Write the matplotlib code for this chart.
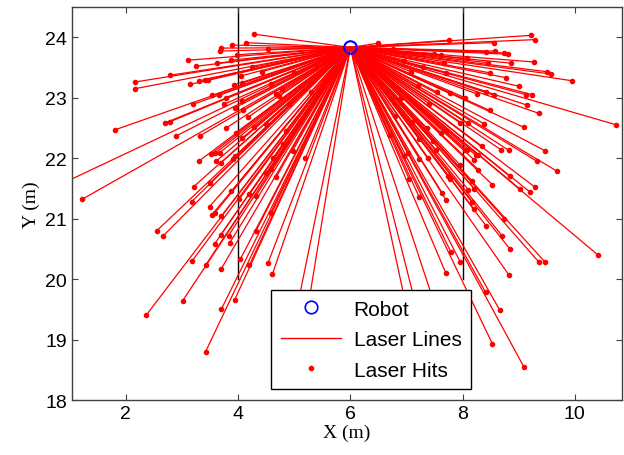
import numpy as np
import matplotlib
matplotlib.use('Agg')
import matplotlib.pyplot as plt
from matplotlib.lines import Line2D

# posicion del robot
robot_x = 6.0
robot_y = 23.83

# paredes del pasillo
wall_x = [4.0, 8.0]
wall_y = [20.0, 24.6]

# impactos del laser, lado izquierdo
left_x = [4.29, 4.14, 3.89, 3.70, 3.67, 4.54, 3.98, 3.11, 3.62, 3.88, 3.25, 2.78, 2.17, 2.17,
          3.15, 3.31, 3.41, 3.47, 4.05, 4.42, 4.25, 3.92, 4.07, 3.54, 3.66, 3.78, 3.20, 3.75,
          3.94, 4.09, 4.07, 2.69, 2.78, 1.81, 2.90, 3.32, 3.79, 4.18, 3.96, 4.07, 4.29, 4.50,
          3.52, 3.59, 3.67, 3.30, 3.61, 3.69, 3.94, 3.91, 4.62, 4.97, 4.68, 4.50, 4.79, 4.73,
          4.67, 4.59, 3.21, 3.50, 3.88, 4.20, 4.32, 1.22, 0.50, 3.17, 4.02, 3.49, 3.53, 3.58,
          3.70, 4.58, 2.55, 2.66, 4.32, 3.69, 3.83, 3.58, 3.85, 4.04, 3.18, 3.42, 3.70, 4.20,
          4.53, 4.61, 3.01, 3.94, 3.70, 2.36, 3.42, 5.00, 5.15,
          4.80, 4.59, 5.10, 4.90, 5.30, 5.00, 5.40, 4.85, 5.20]
left_y = [24.05, 23.91, 23.87, 23.82, 23.77, 23.80, 23.71, 23.62, 23.57, 23.62, 23.52, 23.37,
          23.26, 23.15, 23.22, 23.28, 23.30, 23.30, 23.36, 23.43, 23.50, 23.21, 23.24, 23.04,
          23.04, 23.00, 22.89, 22.89, 22.83, 22.79, 22.94, 22.58, 22.60, 22.47, 22.37, 22.37,
          22.50, 22.68, 22.42, 22.33, 22.52, 22.57, 22.07, 22.08, 22.09, 21.95, 21.95, 21.92,
          22.03, 21.99, 22.00, 22.12, 21.69, 21.75, 23.14, 23.03, 23.06, 23.22, 21.53, 21.59,
          21.45, 21.40, 21.38, 21.32, 21.42, 21.28, 21.32, 21.20, 21.06, 21.09, 21.04, 21.10,
          20.80, 20.71, 20.80, 20.73, 20.72, 20.58, 20.60, 20.33, 20.30, 20.23, 20.17, 20.23,
          20.26, 20.08, 19.64, 19.66, 19.50, 19.40, 18.80, 19.30, 19.00,
          22.23, 21.82, 22.60, 22.90, 23.10, 23.40, 23.50, 22.45, 22.00]

# impactos del laser, lado derecho
right_x = [9.21, 9.29, 7.75, 8.56, 6.49, 8.42, 8.58, 8.74, 8.80, 7.49, 7.62, 6.76, 9.27, 8.87,
           8.45, 8.07, 7.66, 9.50, 9.58, 8.49, 8.78, 9.95, 7.08, 7.70, 9.00, 8.26, 8.42, 8.56,
           9.13, 9.24, 7.55, 7.77, 8.04, 9.14, 9.36, 8.48, 10.74, 9.09, 8.09, 7.96, 8.38, 7.62,
           7.70, 7.36, 8.34, 8.68, 8.82, 9.47, 8.07, 8.05, 8.23, 8.27, 9.32, 9.69, 8.21, 8.28,
           8.84, 8.53, 9.02, 9.20, 9.29, 8.10, 8.21, 7.74, 7.64, 7.05, 7.38, 7.23, 7.53, 7.02,
           6.95, 6.70, 7.22, 7.96, 7.77, 7.23, 8.17, 8.74, 8.42, 8.70, 8.84, 7.79, 7.96, 9.36,
           9.46, 10.41, 7.70, 8.83, 8.41, 8.66, 8.53, 9.09, 7.71, 8.16, 8.20, 7.47, 7.10, 7.35,
           7.60, 6.90, 7.20, 6.80, 7.10, 7.30, 6.95, 7.40]
right_y = [24.03, 23.96, 23.95, 23.91, 23.90, 23.76, 23.77, 23.74, 23.72, 23.73, 23.71, 23.81,
           23.59, 23.57, 23.58, 23.65, 23.57, 23.43, 23.39, 23.41, 23.33, 23.28, 23.43, 23.41,
           23.19, 23.06, 23.10, 23.04, 23.05, 23.05, 23.09, 23.07, 23.00, 22.88, 22.74, 22.79,
           22.55, 22.51, 22.58, 22.58, 22.57, 22.42, 22.45, 22.50, 22.20, 22.14, 22.13, 22.12,
           22.14, 22.13, 22.05, 22.05, 21.95, 21.78, 21.97, 21.81, 21.70, 21.56, 21.49, 21.44,
           21.52, 21.48, 21.49, 21.71, 21.42, 21.65, 22.01, 21.99, 22.13, 22.09, 22.04, 22.38,
           22.32, 21.88, 21.66, 21.35, 21.62, 21.00, 20.88, 20.72, 20.50, 20.45, 20.28, 20.28,
           20.29, 20.40, 20.10, 20.06, 19.78, 19.49, 18.93, 18.55, 21.30, 21.28, 21.16, 22.28,
           19.10, 18.90, 19.30, 23.00, 23.20, 22.70, 22.60, 23.50, 23.60, 22.90]

hits_x = left_x + right_x
hits_y = left_y + right_y

plt.rcParams['font.family'] = ['Liberation Sans', 'DejaVu Sans']

fig = plt.figure(figsize=(6.24, 4.56), dpi=100)
ax = fig.add_axes([0.1154, 0.1206, 0.8814, 0.8619])

# paredes
for wx in wall_x:
    ax.plot([wx, wx], wall_y, color='black', lw=1.0, zorder=1)

# lineas del laser
for hx, hy in zip(hits_x, hits_y):
    ax.plot([robot_x, hx], [robot_y, hy], color='red', lw=0.9, zorder=2)

# puntos de impacto
ax.plot(hits_x, hits_y, '.', color='red', markersize=6, zorder=3)

# robot
ax.plot(robot_x, robot_y, 'o', mfc='none', mec='blue', mew=1.5, markersize=9, zorder=4)

ax.set_xlim(1.04, 10.84)
ax.set_ylim(18, 24.5)
ax.set_xticks([2, 4, 6, 8, 10])
ax.set_yticks([18, 19, 20, 21, 22, 23, 24])
ax.tick_params(direction='in', length=4, labelsize=14, top=True, right=True, color='#404040')
for s in ax.spines.values():
    s.set_color('#404040')
    s.set_linewidth(1.0)

ax.set_xlabel('X (m)', family='Liberation Serif', fontsize=14, labelpad=1)
ax.set_ylabel('Y (m)', family='Liberation Serif', fontsize=14, labelpad=4)

handles = [
    Line2D([], [], marker='o', ls='none', mfc='none', mec='blue', mew=1.2, markersize=9),
    Line2D([], [], color='red', lw=1.0),
    Line2D([], [], marker='.', ls='none', color='red', markersize=6),
]
leg = ax.legend(handles, ['Robot', 'Laser Lines', 'Laser Hits'], loc='lower center',
                bbox_to_anchor=(0.544, 0.028), borderaxespad=0, fontsize=15, fancybox=False,
                framealpha=1, edgecolor='black', handlelength=2.9, borderpad=0.45,
                labelspacing=0.55, handletextpad=0.6)
leg.get_frame().set_linewidth(1.0)
leg.set_zorder(10)

fig.savefig('out.png', dpi=100)
